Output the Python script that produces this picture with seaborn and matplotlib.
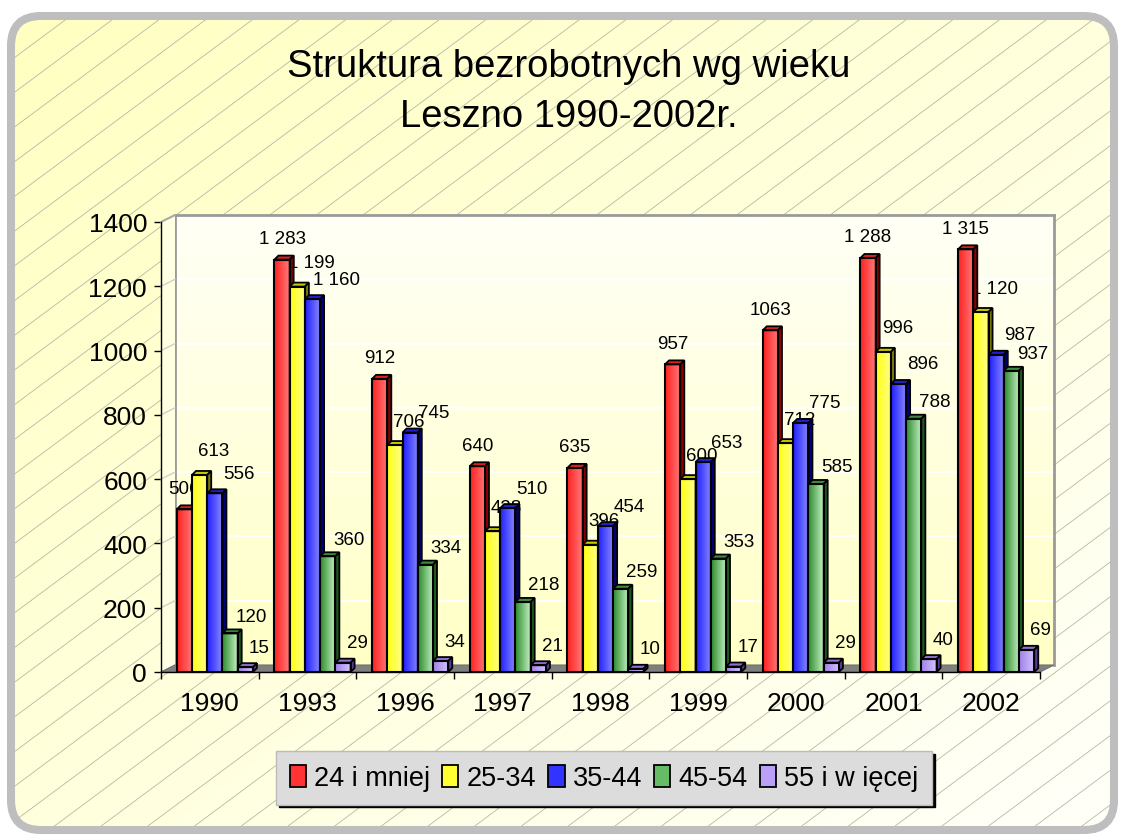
import matplotlib
matplotlib.use("Agg")
import matplotlib.pyplot as plt
import numpy as np
import pandas as pd
import seaborn as sns
from matplotlib.colors import LinearSegmentedColormap, to_rgb
from matplotlib.patches import FancyBboxPatch, Patch, Polygon
from matplotlib.transforms import IdentityTransform, ScaledTranslation

YEARS = ["1990", "1993", "1996", "1997", "1998", "1999", "2000", "2001", "2002"]
AGE_GROUPS = ["24 i mniej", "25-34", "35-44", "45-54", "55 i w ięcej"]
AGE_24_AND_LESS = [506, 1283, 912, 640, 635, 957, 1063, 1288, 1315]
AGE_25_34 = [613, 1199, 706, 438, 396, 600, 712, 996, 1120]
AGE_35_44 = [556, 1160, 745, 510, 454, 653, 775, 896, 987]
AGE_45_54 = [120, 360, 334, 218, 259, 353, 585, 788, 937]
AGE_55_PLUS = [15, 29, 34, 21, 10, 17, 29, 40, 69]
Y_TICKS = [0, 200, 400, 600, 800, 1000, 1200, 1400]
TITLE_LINES = ["Struktura bezrobotnych wg wieku", "Leszno 1990-2002r."]
# excel printed this one without the thousands space
UNGROUPED_VALUES = {1063}

W, H = 1121, 837
BASE_COLORS = ["#FF3333", "#FFFF33", "#3333FF", "#66BB66", "#BBA0F8"]
FRONT_GRADIENTS = [("#FF2020", "#FF7A7A"), ("#FFFF10", "#FFFF90"), ("#2020FF", "#8A8AFF"),
                   ("#2E8B2E", "#C4F2C4"), ("#A080E8", "#D4C6FF")]
TOP_COLORS = ["#E02020", "#C8C800", "#2020D0", "#3C8C3C", "#9070D0"]
SIDE_COLORS = ["#8C0000", "#7A7A00", "#00007A", "#1E5A1E", "#5A3C9A"]
# label offset (pixels) from the bar top, per series, like the excel file
LABEL_OFFSETS = [(0, 21), (14, 24), (24, 20), (21, 17), (14, 20)]
DEPTH = 4
WALL_DX, WALL_DY = 14, 7


def fmt_label(value):
    if value in UNGROUPED_VALUES:
        return str(value)
    return f"{value:,}".replace(",", " ")


def main():
    sns.set_style("white")
    plt.rcParams["font.family"] = ["Liberation Sans", "DejaVu Sans"]
    plt.rcParams["text.color"] = "black"
    plt.rcParams["xtick.color"] = "black"
    plt.rcParams["ytick.color"] = "black"
    plt.rcParams["axes.labelcolor"] = "black"

    series = [AGE_24_AND_LESS, AGE_25_34, AGE_35_44, AGE_45_54, AGE_55_PLUS]
    df = pd.DataFrame(
        [{"year": y, "group": g, "count": vals[i]} for g, vals in zip(AGE_GROUPS, series) for i, y in enumerate(YEARS)]
    )

    fig = plt.figure(figsize=(W / 100, H / 100), dpi=100)
    fig.patch.set_facecolor("white")

    # background panel with rounded border and diagonal lines
    bg = fig.add_axes([0, 0, 1, 1], zorder=0)
    bg.set_xlim(0, W)
    bg.set_ylim(H, 0)
    bg.axis("off")
    box = FancyBboxPatch((11, 17), 1103, 814, boxstyle="round,pad=0,rounding_size=30",
                         facecolor="none", edgecolor="#BEBEBE", linewidth=5.8, zorder=5)
    bg.add_patch(box)
    yy, xx = np.mgrid[0:H:4, 0:W:4]
    t = ((xx / W) + (yy / H)) / 2
    c0, c1 = np.array(to_rgb("#FFFFC0")), np.array(to_rgb("#FFFFFA"))
    grad = c0[None, None, :] * (1 - t[..., None]) + c1[None, None, :] * t[..., None]
    img = bg.imshow(grad, extent=[0, W, H, 0], aspect="auto", zorder=1)
    img.set_clip_path(box)
    xs = np.array([0, W])
    for c in np.arange(0, H + 0.743 * W + 40, 34.7):
        (line,) = bg.plot(xs, c - 0.743 * xs, color="#B8B8A4", lw=0.6, zorder=2)
        line.set_clip_path(box)
    bg.set_xlim(0, W)
    bg.set_ylim(H, 0)

    # back wall of the 3d plot
    wall = fig.add_axes([175 / W, 1 - 666 / H, 879 / W, 450 / H], zorder=1)
    wall_grad = np.linspace(0, 1, 64)[:, None]
    wall_cmap = LinearSegmentedColormap.from_list("wall", ["#FFFFC6", "#FFFFF6"])
    wall.imshow(wall_grad, cmap=wall_cmap, extent=[0, 1, 1400, 0], aspect="auto")
    wall.set_xlim(0, 1)
    wall.set_ylim(0, 1400)
    for v in Y_TICKS[1:-1]:
        wall.axhline(v, color="white", lw=1.4)
    wall.set_xticks([])
    wall.set_yticks([])
    for side in ["left", "top", "right"]:
        wall.spines[side].set_color("#9A9A9A")
        wall.spines[side].set_linewidth(2)
    wall.spines["bottom"].set_visible(False)

    # main axes
    ax = fig.add_axes([161 / W, 1 - 673 / H, 879 / W, 450 / H], zorder=2)
    ax.patch.set_alpha(0)
    sns.barplot(data=df, x="year", y="count", hue="group", hue_order=AGE_GROUPS, order=YEARS,
                palette=BASE_COLORS, saturation=1, width=0.78, legend=False, ax=ax)
    ax.set_xlim(-0.5, len(YEARS) - 0.5)
    ax.set_ylim(0, 1400)
    fig.canvas.draw()

    to_px = ax.transData
    # floor and left wall
    x_left, y_zero = to_px.transform((-0.5, 0))
    x_right, y_top = to_px.transform((len(YEARS) - 0.5, 1400))
    floor = Polygon([(x_left, y_zero), (x_right, y_zero), (x_right + WALL_DX, y_zero + WALL_DY),
                     (x_left + WALL_DX, y_zero + WALL_DY)], closed=True, facecolor="#808080",
                    edgecolor="#707070", lw=0.8, transform=IdentityTransform(), clip_on=False, zorder=1)
    ax.add_patch(floor)
    side_wall = Polygon([(x_left, y_zero), (x_left, y_top), (x_left + WALL_DX, y_top + WALL_DY),
                         (x_left + WALL_DX, y_zero + WALL_DY)], closed=True, facecolor="#FFFFE2",
                        edgecolor="none", transform=IdentityTransform(), clip_on=False, zorder=0.5)
    ax.add_patch(side_wall)
    for v in Y_TICKS:
        _, yv = to_px.transform((-0.5, v))
        ax.plot([x_left, x_left + WALL_DX], [yv, yv + WALL_DY], color="#A8A8A8" if v == 1400 else "#D0D0C8",
                lw=1.5 if v == 1400 else 1, transform=IdentityTransform(), clip_on=False, zorder=0.6)

    shift = to_px + ScaledTranslation(5 / 100, 0, fig.dpi_scale_trans)
    for k, container in enumerate(ax.containers):
        z = 3 + k * 0.1
        cmap = LinearSegmentedColormap.from_list(f"g{k}", FRONT_GRADIENTS[k])
        for rect, value in zip(container.patches, series[k]):
            x0, w, h = rect.get_x(), rect.get_width(), rect.get_height()
            rect.set_transform(shift)
            rect.set_facecolor("none")
            rect.set_edgecolor("black")
            rect.set_linewidth(1.5)
            rect.set_zorder(z + 0.03)
            ax.imshow(np.linspace(0, 1, 32)[None, :], cmap=cmap, extent=[x0, x0 + w, 0, h],
                      aspect="auto", transform=shift, zorder=z, interpolation="bilinear")
            (px0, py0), (px1, py1) = shift.transform([(x0, 0), (x0 + w, h)])
            top = Polygon([(px0, py1), (px1, py1), (px1 + DEPTH, py1 + DEPTH), (px0 + DEPTH, py1 + DEPTH)],
                          closed=True, facecolor=TOP_COLORS[k], edgecolor="black", lw=1.3,
                          transform=IdentityTransform(), zorder=z + 0.01, clip_on=False)
            side = Polygon([(px1, py0), (px1, py1), (px1 + DEPTH, py1 + DEPTH), (px1 + DEPTH, py0 + DEPTH)],
                           closed=True, facecolor=SIDE_COLORS[k], edgecolor="black", lw=1.3,
                           transform=IdentityTransform(), zorder=z + 0.01, clip_on=False)
            ax.add_patch(top)
            ax.add_patch(side)
            dx, dy = LABEL_OFFSETS[k]
            ax.annotate(fmt_label(value), xy=((px0 + px1) / 2, py1), xycoords="figure pixels",
                        xytext=(dx, dy), textcoords="offset pixels", ha="center", va="center",
                        fontsize=13.5, color="black", zorder=2, annotation_clip=False)

    ax.set_xlim(-0.5, len(YEARS) - 0.5)
    ax.set_ylim(0, 1400)
    ax.set_xlabel("")
    ax.set_ylabel("")
    ax.set_yticks(Y_TICKS)
    ax.set_yticklabels([str(v) for v in Y_TICKS])
    ax.set_xticks(np.arange(len(YEARS) + 1) - 0.5)
    ax.set_xticklabels([])
    ax.set_xticks(np.arange(len(YEARS)), labels=YEARS, minor=True)
    ax.tick_params(axis="x", which="major", length=5, width=1, color="black", direction="out", bottom=True)
    ax.tick_params(axis="x", which="minor", length=0, pad=14, labelsize=19, bottom=True)
    ax.tick_params(axis="y", length=5, width=1, color="black", direction="out", pad=5, labelsize=19, left=True)
    for side in ["top", "right"]:
        ax.spines[side].set_visible(False)
    for side in ["left", "bottom"]:
        ax.spines[side].set_color("black")
        ax.spines[side].set_linewidth(1)
    ax.grid(False)

    for text, baseline in zip(TITLE_LINES, [77, 127]):
        fig.text(569 / W, 1 - baseline / H, text, ha="center", va="baseline", fontsize=27.5, color="black")

    handles = [Patch(facecolor=c, edgecolor="black", linewidth=1.3) for c in BASE_COLORS]
    fig.legend(handles, AGE_GROUPS, loc="center", bbox_to_anchor=(604 / W, 1 - 779 / H), ncol=5,
               fontsize=19.5, handlelength=0.6, handleheight=0.85, handletextpad=0.3, columnspacing=0.45,
               borderpad=0.5, fancybox=False, shadow={"color": "black", "alpha": 1},
               facecolor="#DCDCDC", edgecolor="#BBBBBB", framealpha=1)

    fig.savefig("out.png", dpi=100)
    plt.close(fig)


if __name__ == "__main__":
    main()
